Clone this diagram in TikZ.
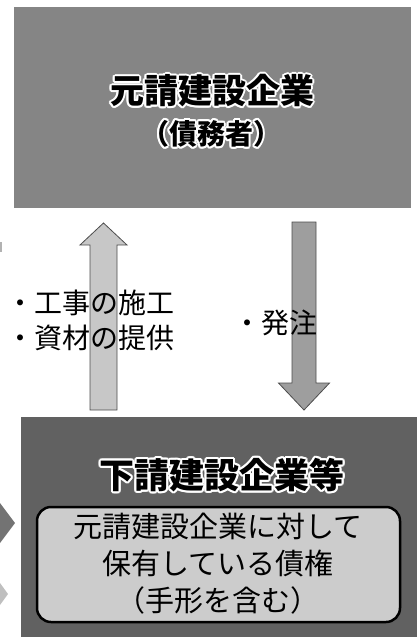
\documentclass[tikz,border=0pt]{standalone}
\usepackage{fontspec}
\setmainfont{Noto Sans CJK JP}
\usetikzlibrary{positioning, calc}

\begin{document}
\begin{tikzpicture}[x=1pt, y=-1pt,
  bigbox/.style={draw=none, rectangle, inner sep=0pt},
  ttl/.style={font=\fontsize{34}{40}\selectfont\bfseries, inner sep=0pt},
  lbl/.style={font=\fontsize{28}{34}\selectfont, inner sep=0pt},
  blk/.style={draw=black!70, line width=0.8pt}]
  \useasboundingbox (0,0) rectangle (417,637);

  % Upper box
  \node[bigbox, fill=black!48, minimum width=397pt, minimum height=201pt] (moto) at (212.5,107.5) {};
  % Lower box
  \node[bigbox, fill=black!62, minimum width=397pt, minimum height=221pt] (shita) at (219.5,527.5) {};
  \node[draw, line width=2.5pt, fill=black!20, rounded corners=14pt, minimum width=363pt, minimum height=115pt] (saiken) at (218.5,564.5) {};

  % Arrows
  \coordinate (upS) at (103.5,410);
  \coordinate (upE) at (103.5,223);
  \coordinate (dnS) at (304,222);
  \coordinate (dnE) at (304,410);
  \draw[blk, fill=black!22] ($(upS)+(-13.5,0)$) -- ($(upE)+(-13.5,22)$) -- ($(upE)+(-23.5,22)$) -- (upE)
    -- ($(upE)+(23.5,22)$) -- ($(upE)+(13.5,22)$) -- ($(upS)+(13.5,0)$) -- cycle;
  \draw[blk, fill=black!38] ($(dnS)+(-12,0)$) -- ($(dnE)+(-12,-27)$) -- ($(dnE)+(-25.5,-27)$) -- (dnE)
    -- ($(dnE)+(25.5,-27)$) -- ($(dnE)+(12,-27)$) -- ($(dnS)+(12,0)$) -- cycle;

  % Cut-off shapes at the left edge
  \fill[black!55] (0,503) -- (15,523) -- (0,543) -- cycle;
  \fill[black!25] (0,583) -- (8,594) -- (0,605) -- cycle;
  \fill[black!30] (0,242) rectangle (2,252);

  % Titles, with a white halo
  \foreach \a in {0,30,...,330} {
    \node[ttl, text=white, xshift={2*cos(\a)}, yshift={2*sin(\a)}] at (212,91) {元請建設企業};
    \node[ttl, text=white, xshift={2*cos(\a)}, yshift={2*sin(\a)}, font=\fontsize{28}{34}\selectfont\bfseries] at (211,134) {（債務者）};
    \node[ttl, text=white, xshift={2*cos(\a)}, yshift={2*sin(\a)}, font=\fontsize{35}{40}\selectfont\bfseries] at (222,475) {下請建設企業等};
  }
  \node[ttl] (motoT) at (212,91) {元請建設企業};
  \node[ttl, font=\fontsize{28}{34}\selectfont\bfseries] (motoS) at (211,134) {（債務者）};
  \node[ttl, font=\fontsize{35}{40}\selectfont\bfseries] (shitaT) at (222,475) {下請建設企業等};

  % Labels
  \node[lbl, anchor=west] (koji) at (6,303) {・工事の施工};
  \node[lbl, anchor=west] (shizai) at (6,338) {・資材の提供};
  \node[lbl, anchor=west] (hatchu) at (233,323) {・発注};

  % Claim
  \node[lbl, align=center, font=\fontsize{29}{37}\selectfont] (claimT) at (218,564) {元請建設企業に対して\\保有している債権\\（手形を含む）};
\end{tikzpicture}
\end{document}
